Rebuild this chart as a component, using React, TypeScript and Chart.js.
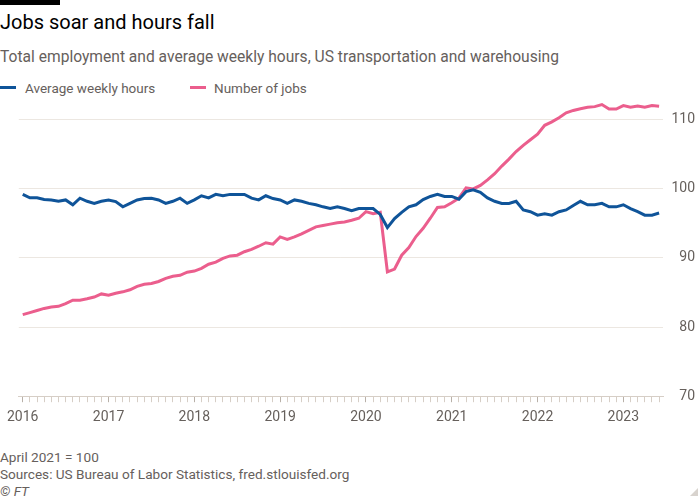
import React, { useEffect, useRef } from "react";
import { Chart, registerables } from "chart.js";

Chart.register(...registerables);

const years = ["2016", "2017", "2018", "2019", "2020", "2021", "2022", "2023"];
const yTicks = [70, 80, 90, 100, 110];

// Monthly, Jan 2016 – Jun 2023 (April 2021 = 100)
const hours = [
  99.2, 98.7, 98.7, 98.45, 98.4, 98.2, 98.4, 97.7, 98.65, 98.2,
  97.9, 98.2, 98.4, 98.15, 97.4, 97.9, 98.4, 98.6, 98.65, 98.4,
  97.9, 98.2, 98.65, 97.9, 98.4, 99.0, 98.7, 99.2, 99.0, 99.2,
  99.2, 99.2, 98.65, 98.4, 99.0, 98.6, 98.4, 97.9, 98.4, 98.2,
  97.9, 97.7, 97.4, 97.15, 97.4, 97.15, 96.85, 97.15, 97.15, 97.15,
  96.3, 94.4, 95.7, 96.6, 97.4, 97.7, 98.45, 98.9, 99.2, 98.9,
  98.9, 98.5, 99.6, 99.85, 99.5, 98.7, 98.2, 97.9, 97.9, 98.2,
  96.95, 96.7, 96.2, 96.4, 96.2, 96.7, 96.95, 97.6, 98.2, 97.7,
  97.7, 97.9, 97.4, 97.4, 97.7, 97.15, 96.7, 96.2, 96.2, 96.5,
];

const jobs = [
  81.8, 82.1, 82.4, 82.7, 82.9, 83.0, 83.4, 83.9, 83.9, 84.1,
  84.35, 84.8, 84.6, 84.9, 85.1, 85.4, 85.9, 86.2, 86.3, 86.6,
  87.05, 87.35, 87.5, 87.95, 88.1, 88.5, 89.1, 89.4, 89.95, 90.3,
  90.4, 90.9, 91.25, 91.7, 92.2, 92.0, 93.05, 92.7, 93.05, 93.5,
  94.0, 94.5, 94.7, 94.9, 95.1, 95.2, 95.45, 95.75, 96.7, 96.4,
  96.6, 88.0, 88.4, 90.4, 91.5, 93.1, 94.3, 95.75, 97.3, 97.4,
  98.0, 98.65, 100.15, 100.0, 100.5, 101.3, 102.2, 103.3, 104.3, 105.4,
  106.3, 107.1, 107.9, 109.2, 109.7, 110.3, 111.0, 111.35, 111.6, 111.8,
  111.9, 112.2, 111.55, 111.55, 112.05, 111.8, 112.0, 111.8, 112.05, 111.95,
];

const seriesNames = ["Average weekly hours", "Number of jobs"];
const BLUE = "#0f5499";
const PINK = "#eb5e8d";
const GREY = "#66605c";
const FONT = "Roboto, 'Liberation Sans', sans-serif";

export default function App() {
  const ref = useRef<HTMLCanvasElement | null>(null);

  useEffect(() => {
    if (!ref.current) return;
    const chart = new Chart(ref.current, {
      type: "line",
      data: {
        datasets: [
          {
            label: seriesNames[0],
            data: hours.map((v, i) => ({ x: i, y: v })),
            borderColor: BLUE,
            borderWidth: 3,
            pointRadius: 0,
            tension: 0,
          },
          {
            label: seriesNames[1],
            data: jobs.map((v, i) => ({ x: i, y: v })),
            borderColor: PINK,
            borderWidth: 3,
            pointRadius: 0,
            tension: 0,
          },
        ],
      },
      options: {
        animation: false,
        responsive: false,
        maintainAspectRatio: false,
        layout: { padding: { left: 0, right: 5, top: 0, bottom: 0 } },
        plugins: { legend: { display: false }, tooltip: { enabled: false } },
        scales: {
          x: {
            type: "linear",
            min: -0.55,
            max: 89.6,
            grid: {
              drawOnChartArea: false,
              drawTicks: true,
              tickLength: 6,
              tickColor: (ctx: any) =>
                ctx.tick && ctx.tick.value % 12 === 0 ? "#b8b0a8" : "#d6cec6",
            },
            border: { display: true, color: "#d6cec6" },
            ticks: {
              stepSize: 1,
              autoSkip: false,
              maxRotation: 0,
              includeBounds: false,
              padding: 7,
              color: GREY,
              font: { family: FONT, size: 14 },
              callback: (v: any) => {
                const n = Number(v);
                return n % 12 === 0 ? years[n / 12] : "";
              },
            },
          },
          y: {
            position: "right",
            min: 70,
            max: 112.8,
            afterBuildTicks: (s: any) => {
              s.ticks = yTicks.map((v) => ({ value: v }));
            },
            grid: { color: "#ece7e1", drawTicks: false, lineWidth: 1 },
            border: { display: false },
            ticks: {
              includeBounds: false,
              padding: 4,
              crossAlign: "far",
              color: GREY,
              font: { family: FONT, size: 14 },
            },
          },
        },
      },
    });
    return () => chart.destroy();
  }, []);

  const footer: React.CSSProperties = {
    position: "absolute",
    left: 0,
    fontFamily: FONT,
    fontSize: 13.6,
    color: GREY,
    lineHeight: "17px",
    whiteSpace: "nowrap",
  };

  return (
    <div
      style={{
        position: "absolute",
        left: 0,
        top: 0,
        width: 700,
        height: 500,
        background: "#ffffff",
        overflow: "hidden",
        fontFamily: FONT,
      }}
    >
      <div style={{ position: "absolute", left: 0, top: 0, width: 60, height: 5, background: "#000" }} />
      <div
        style={{
          position: "absolute",
          left: 0,
          top: 9,
          fontSize: 20,
          lineHeight: "26px",
          color: "#000",
          whiteSpace: "nowrap",
        }}
      >
        Jobs soar and hours fall
      </div>
      <div
        style={{
          position: "absolute",
          left: 0,
          top: 47,
          fontSize: 15.6,
          lineHeight: "20px",
          color: GREY,
          whiteSpace: "nowrap",
        }}
      >
        Total employment and average weekly hours, US transportation and warehousing
      </div>
      <div style={{ position: "absolute", left: 0, top: 86, width: 16, height: 3, background: BLUE }} />
      <div style={{ ...footer, top: 79, left: 25, fontSize: 13.5, lineHeight: "18px" }}>{seriesNames[0]}</div>
      <div style={{ position: "absolute", left: 190, top: 86, width: 16, height: 3, background: PINK }} />
      <div style={{ ...footer, top: 79, left: 214, fontSize: 13.5, lineHeight: "18px" }}>{seriesNames[1]}</div>

      <canvas
        ref={ref}
        width={700}
        height={345}
        style={{ position: "absolute", left: 0, top: 88, width: 700, height: 345 }}
      />

      <div style={{ ...footer, top: 449 }}>April 2021 = 100</div>
      <div style={{ ...footer, top: 466 }}>Sources: US Bureau of Labor Statistics, fred.stlouisfed.org</div>
      <div style={{ ...footer, top: 483, fontStyle: "italic" }}>© FT</div>
      <div
        style={{
          position: "absolute",
          right: 2,
          bottom: 4,
          width: 0,
          height: 0,
          borderLeft: "8px solid transparent",
          borderBottom: "8px solid #d8d3ce",
        }}
      />
    </div>
  );
}
